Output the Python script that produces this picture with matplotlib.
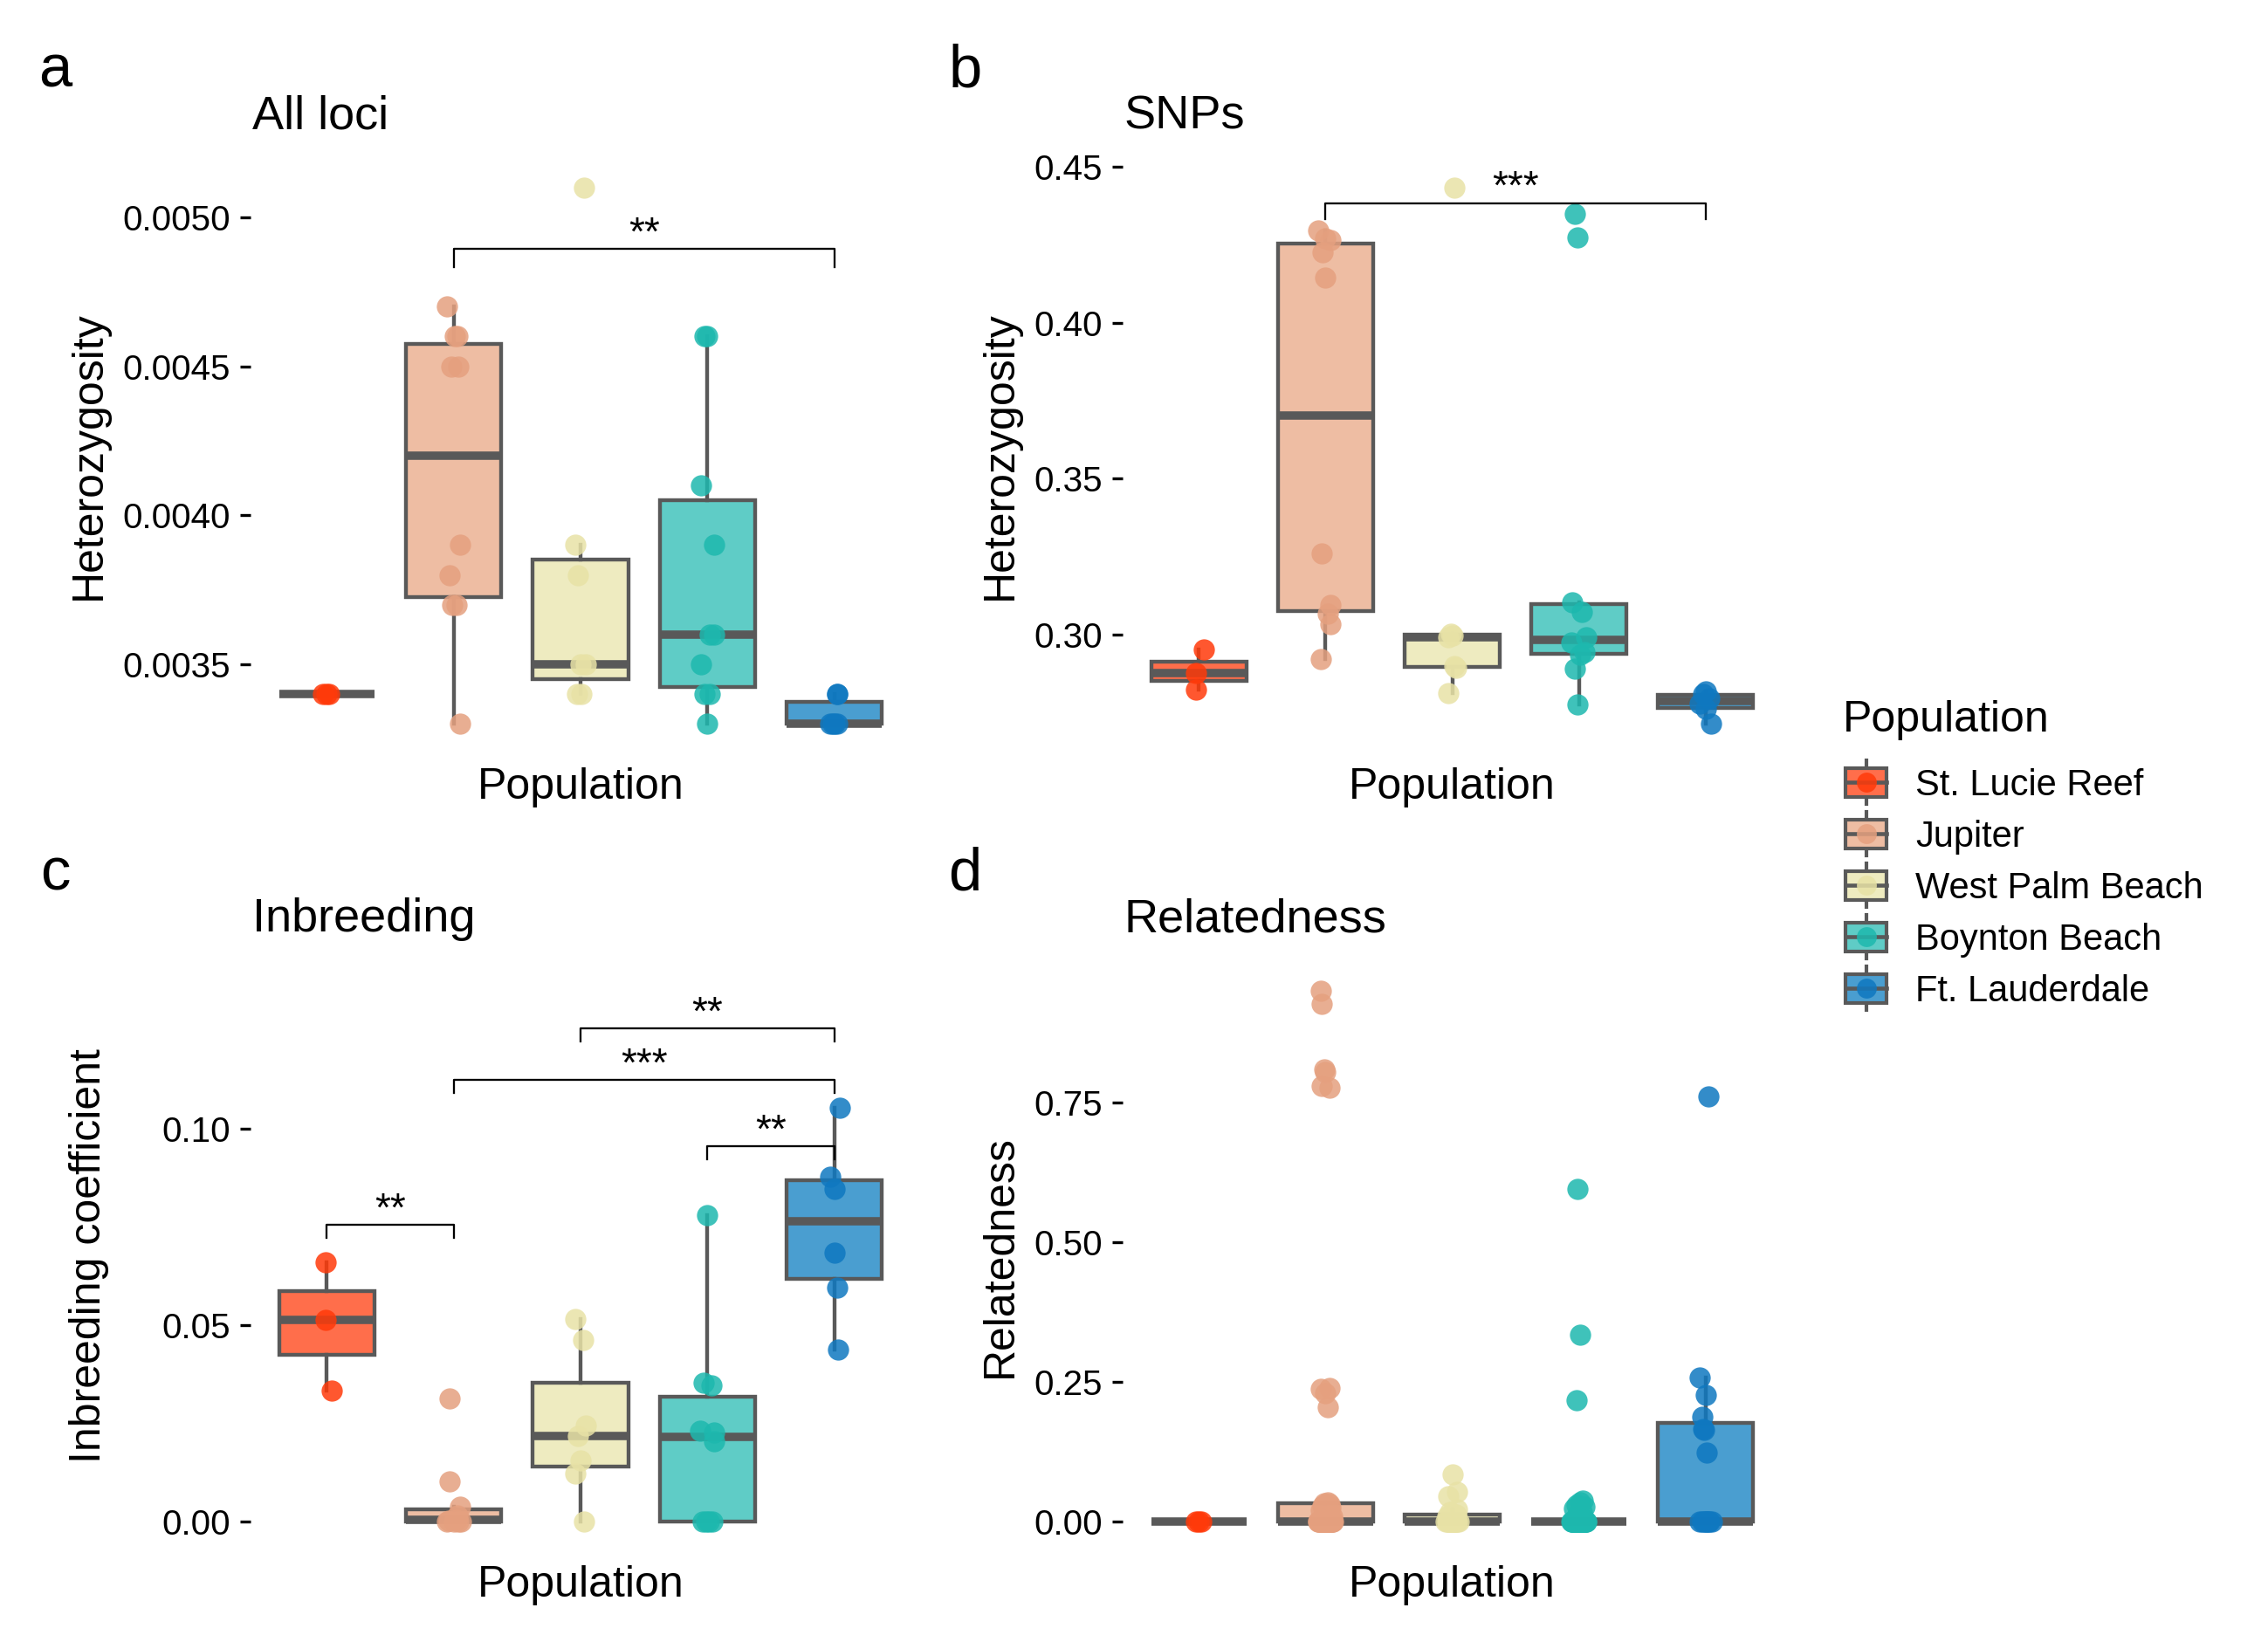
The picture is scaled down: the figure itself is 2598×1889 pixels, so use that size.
import matplotlib.pyplot as plt

plt.rcParams["font.family"] = ["Liberation Sans", "DejaVu Sans"]

W, H, DPI = 2598, 1889, 300

populations = ["St. Lucie Reef", "Jupiter", "West Palm Beach", "Boynton Beach", "Ft. Lauderdale"]
fill_colors = ["#FF6E4B", "#EEBDA3", "#EEEBC0", "#5FCCC6", "#4A9ED0"]
point_colors = ["#FF3A0A", "#E5A07F", "#E8E2A6", "#1DB8AE", "#0F78C0"]
LINE = "#595959"

# a: heterozygosity, all loci
het_all = [
    [0.0034, 0.0034, 0.0034],
    [0.0047, 0.0046, 0.0046, 0.0045, 0.0045, 0.0039, 0.0038, 0.0037, 0.0037, 0.0033],
    [0.0051, 0.0039, 0.0038, 0.0035, 0.0035, 0.0034, 0.0034],
    [0.0046, 0.0046, 0.0041, 0.0039, 0.0036, 0.0036, 0.0035, 0.0034, 0.0034, 0.0033],
    [0.0034, 0.0034, 0.0033, 0.0033, 0.0033, 0.0033],
]
het_all_jit = [
    [-0.03, 0.0, 0.02],
    [-0.05, 0.01, 0.03, -0.02, 0.04, 0.05, -0.03, -0.01, 0.02, 0.05],
    [0.03, -0.04, -0.02, 0.04, 0.0, -0.03, 0.01],
    [-0.02, 0.0, -0.05, 0.05, 0.02, 0.05, -0.05, -0.02, 0.02, 0.0],
    [0.02, 0.02, -0.03, 0.0, 0.02, -0.01],
]

# b: heterozygosity, SNPs
het_snp = [
    [0.2952, 0.2877, 0.2825],
    [0.4295, 0.4270, 0.4264, 0.4226, 0.4144, 0.3260, 0.3094, 0.3068, 0.3034, 0.2921],
    [0.4433, 0.3002, 0.2998, 0.2991, 0.2899, 0.2895, 0.2812],
    [0.4348, 0.4273, 0.3105, 0.3072, 0.2992, 0.2974, 0.2945, 0.2935, 0.2892, 0.2777],
    [0.2818, 0.2810, 0.2797, 0.2780, 0.2762, 0.2714],
]
het_snp_jit = [
    [0.04, -0.02, -0.02],
    [-0.06, 0.0, 0.04, -0.02, 0.0, -0.03, 0.04, 0.02, 0.04, -0.04],
    [0.02, -0.01, 0.0, -0.03, 0.02, 0.03, -0.03],
    [-0.03, -0.01, -0.05, 0.02, 0.06, -0.06, 0.04, 0.01, -0.03, -0.01],
    [0.0, -0.02, 0.03, -0.05, 0.0, 0.04],
]

# c: inbreeding coefficient
inbreeding = [
    [0.0660, 0.0514, 0.0334],
    [0.0314, 0.0103, 0.0037, 0.0015, 0.0005, 0.0003, 0.0, 0.0, 0.0, 0.0],
    [0.0516, 0.0462, 0.0245, 0.0218, 0.0156, 0.0122, 0.0],
    [0.0781, 0.0353, 0.0346, 0.0231, 0.0226, 0.0204, 0.0, 0.0, 0.0, 0.0],
    [0.1053, 0.0877, 0.0846, 0.0685, 0.0595, 0.0438],
]
inbreeding_jit = [
    [-0.01, -0.01, 0.04],
    [-0.03, -0.03, 0.05, 0.03, 0.02, -0.04, 0.06, -0.05, 0.0, 0.04],
    [-0.04, 0.02, 0.04, -0.02, 0.0, -0.04, 0.03],
    [0.0, -0.03, 0.03, -0.06, 0.05, 0.05, -0.04, -0.01, 0.01, 0.04],
    [0.04, -0.03, 0.0, 0.0, 0.02, 0.03],
]

# d: pairwise relatedness
relatedness = [
    [0.0, 0.0, 0.0],
    [0.950, 0.927, 0.809, 0.805, 0.779, 0.776, 0.239, 0.237, 0.229, 0.205,
     0.035, 0.033, 0.032, 0.030, 0.028, 0.025, 0.020, 0.015, 0.010, 0.005] + [0.0] * 25,
    [0.084, 0.053, 0.046, 0.022, 0.018, 0.0127, 0.009, 0.004] + [0.0] * 13,
    [0.595, 0.334, 0.217, 0.037, 0.034, 0.030, 0.027, 0.024, 0.018, 0.012, 0.006] + [0.0] * 34,
    [0.7615, 0.258, 0.226, 0.188, 0.166, 0.164, 0.123] + [0.0] * 8,
]
relatedness_jit = [
    [-0.02, 0.0, 0.02],
    [-0.04, -0.03, -0.01, 0.0, -0.03, 0.03, 0.03, -0.04, 0.0, 0.02,
     0.02, -0.01, 0.03, 0.0, -0.02, 0.04, -0.04, 0.01, 0.05, -0.03,
     -0.06, -0.05, -0.04, -0.03, -0.02, -0.01, 0.0, 0.01, 0.02, 0.03, 0.04, 0.05, 0.06,
     -0.055, -0.035, -0.015, 0.015, 0.035, 0.055, -0.045, 0.025, 0.045, -0.025, 0.005, -0.005],
    [0.0, 0.04, -0.03, 0.04, -0.02, 0.03, -0.04, 0.02,
     -0.05, -0.04, -0.03, -0.02, -0.01, 0.0, 0.01, 0.02, 0.03, 0.04, 0.05, -0.015, 0.025],
    [-0.01, 0.01, -0.02, 0.03, 0.01, -0.02, 0.04, -0.04, 0.02, -0.01, 0.03,
     -0.06, -0.05, -0.04, -0.03, -0.02, -0.01, 0.0, 0.01, 0.02, 0.03, 0.04, 0.05, 0.06,
     -0.055, -0.045, -0.035, -0.025, -0.015, -0.005, 0.005, 0.015, 0.025, 0.035, 0.045, 0.055,
     -0.05, -0.03, -0.01, 0.01, 0.03, 0.05, -0.02, 0.02, 0.0],
    [0.02, -0.05, 0.0, -0.03, -0.02, -0.01, 0.01,
     -0.05, -0.03, -0.01, 0.0, 0.01, 0.02, 0.03, 0.05],
]

# significance brackets (x1, x2, y, label)
sig_a = [(2, 5, 0.004893, "**")]
sig_b = [(2, 5, 0.4382, "***")]
sig_c = [(1, 2, 0.0755, "**"), (4, 5, 0.0955, "**"), (2, 5, 0.1124, "***"), (3, 5, 0.1255, "**")]


def px_rect(left, top, right, bottom):
    return [left / W, 1 - bottom / H, (right - left) / W, (bottom - top) / H]


def draw_panel(ax, vals, jit, ylim, ticks, labels, sigs=(), tip=0.03):
    bp = ax.boxplot(vals, positions=range(1, 6), widths=0.75, patch_artist=True,
                    showfliers=False, showcaps=False,
                    boxprops=dict(edgecolor=LINE, linewidth=1.05, joinstyle="miter"),
                    whiskerprops=dict(color=LINE, linewidth=1.05),
                    medianprops=dict(color=LINE, linewidth=2.3, solid_capstyle="butt"))
    for patch, c in zip(bp["boxes"], fill_colors):
        patch.set_facecolor(c)
    for i, (v, j) in enumerate(zip(vals, jit)):
        ax.scatter([i + 1 + o for o in j], v, s=34, color=point_colors[i], alpha=0.85,
                   linewidths=0, zorder=4, clip_on=False)
    ax.set_xlim(0.4, 5.6)
    ax.set_ylim(*ylim)
    ax.set_xticks([])
    ax.set_yticks(ticks)
    ax.set_yticklabels(labels)
    ax.tick_params(axis="y", length=2.9, width=0.8, color="black", labelsize=9.7, pad=2.6)
    for s in ax.spines.values():
        s.set_visible(False)
    t = tip * (ylim[1] - ylim[0])
    for x1, x2, y, lab in sigs:
        ax.plot([x1, x1, x2, x2], [y - t, y, y, y - t], color="black", lw=0.55,
                zorder=5, clip_on=False)
        ax.annotate(lab, xy=((x1 + x2) / 2, y), xytext=(0, 1.2), textcoords="offset points",
                    ha="center", va="baseline", fontsize=11)


fig = plt.figure(figsize=(W / DPI, H / DPI), dpi=DPI)
fig.patch.set_facecolor("white")

LEFT = (287, 1043)
RIGHT = (1286, 2041)
TOP = (184, 860)
BOT = (1104, 1774)

ax_a = fig.add_axes(px_rect(LEFT[0], TOP[0], LEFT[1], TOP[1]))
ax_b = fig.add_axes(px_rect(RIGHT[0], TOP[0], RIGHT[1], TOP[1]))
ax_c = fig.add_axes(px_rect(LEFT[0], BOT[0], LEFT[1], BOT[1]))
ax_d = fig.add_axes(px_rect(RIGHT[0], BOT[0], RIGHT[1], BOT[1]))

draw_panel(ax_a, het_all, het_all_jit, (0.00321, 0.00519),
           [0.0035, 0.0040, 0.0045, 0.0050], ["0.0035", "0.0040", "0.0045", "0.0050"],
           sig_a, tip=0.03)
draw_panel(ax_b, het_snp, het_snp_jit, (0.26281, 0.45190),
           [0.30, 0.35, 0.40, 0.45], ["0.30", "0.35", "0.40", "0.45"], sig_b, tip=0.027)
draw_panel(ax_c, inbreeding, inbreeding_jit, (-0.0069, 0.142),
           [0.0, 0.05, 0.10], ["0.00", "0.05", "0.10"], sig_c, tip=0.022)
draw_panel(ax_d, relatedness, relatedness_jit, (-0.0484, 0.9984),
           [0.0, 0.25, 0.50, 0.75], ["0.00", "0.25", "0.50", "0.75"])

# overlay in pixel coordinates for labels and legend
ov = fig.add_axes([0, 0, 1, 1])
ov.set_xlim(0, W)
ov.set_ylim(H, 0)
ov.axis("off")
ov.patch.set_alpha(0)

panels = [
    ("a", "All loci", "Heterozygosity", LEFT, TOP, 44, 115),
    ("b", "SNPs", "Heterozygosity", RIGHT, TOP, 1087, 1159),
    ("c", "Inbreeding", "Inbreeding coefficient", LEFT, BOT, 46, 115),
    ("d", "Relatedness", "Relatedness", RIGHT, BOT, 1086, 1159),
]
for letter, title, ylab, (x0, x1), (y0, y1), lx, yx in panels:
    ov.text(lx, y0 - 84, letter, fontsize=16.5, ha="left", va="baseline")
    ov.text(x0 + 2, y0 - 37, title, fontsize=13, ha="left", va="baseline")
    ov.text((x0 + x1) / 2, y1 + 55, "Population", fontsize=12, ha="center", va="baseline")
    ov.text(yx, (y0 + y1) / 2, ylab, fontsize=12, rotation=90, rotation_mode="anchor",
            ha="center", va="baseline")

# legend
ov.text(2111, 838, "Population", fontsize=12, ha="left", va="baseline")
key_x = 2138
key_ys = [896, 955, 1014, 1073, 1132]
for name, fc, pc, ky in zip(populations, fill_colors, point_colors, key_ys):
    ov.plot([key_x, key_x], [ky - 25, ky + 25], color=LINE, lw=1.0, zorder=2)
    ov.add_patch(plt.Rectangle((key_x - 23.5, ky - 16.5), 47, 33, facecolor=fc,
                               edgecolor=LINE, lw=1.0, zorder=3))
    ov.plot([key_x - 23.5, key_x + 23.5], [ky, ky], color=LINE, lw=1.1, zorder=4)
    ov.scatter([key_x], [ky], s=30, color=pc, alpha=0.85, linewidths=0, zorder=5)
    ov.text(2194, ky + 15, name, fontsize=10, ha="left", va="baseline")

fig.savefig("out.png", dpi=DPI, facecolor="white")
